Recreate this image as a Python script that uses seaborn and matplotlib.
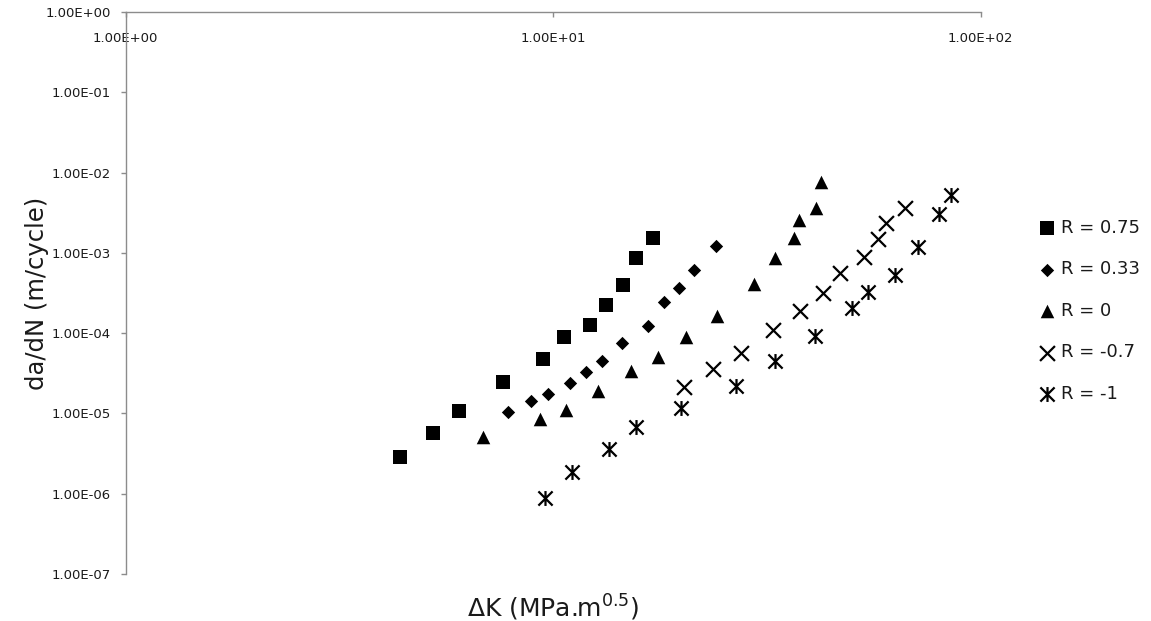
import numpy as np
import pandas as pd
import matplotlib
matplotlib.use("Agg")
import matplotlib.pyplot as plt
from matplotlib.path import Path
from matplotlib.ticker import FixedLocator, FuncFormatter, NullLocator
import seaborn as sns

# ---------------- data ----------------
series_labels = ["R = 0.75", "R = 0.33", "R = 0", "R = -0.7", "R = -1"]

dk_r075 = [4.38, 5.23, 6.01, 7.64, 9.45, 10.6, 12.2, 13.3, 14.6, 15.6, 17.1]
dadn_r075 = [2.90e-6, 5.67e-6, 1.08e-5, 2.45e-5, 4.81e-5, 8.89e-5, 1.25e-4,
             2.26e-4, 3.95e-4, 8.57e-4, 1.53e-3]

dk_r033 = [7.85, 8.87, 9.71, 10.96, 11.93, 13.0, 14.5, 16.7, 18.2, 19.7, 21.4, 24.0]
dadn_r033 = [1.05e-5, 1.44e-5, 1.76e-5, 2.40e-5, 3.29e-5, 4.51e-5, 7.48e-5,
             1.23e-4, 2.41e-4, 3.68e-4, 6.09e-4, 1.23e-3]

dk_r0 = [6.84, 9.31, 10.7, 12.7, 15.2, 17.6, 20.5, 24.2, 29.5, 33.0, 36.5, 37.6, 41.1, 42.3]
dadn_r0 = [5.06e-6, 8.47e-6, 1.11e-5, 1.92e-5, 3.41e-5, 5.10e-5, 8.83e-5,
           1.64e-4, 4.10e-4, 8.71e-4, 1.53e-3, 2.57e-3, 3.66e-3, 7.64e-3]

dk_rm07 = [20.2, 23.7, 27.5, 32.7, 37.8, 42.8, 46.9, 53.3, 57.4, 60.0, 66.5]
dadn_rm07 = [2.12e-5, 3.55e-5, 5.71e-5, 1.10e-4, 1.91e-4, 3.14e-4, 5.67e-4,
             8.97e-4, 1.49e-3, 2.38e-3, 3.66e-3]

dk_rm1 = [9.57, 11.05, 13.5, 15.6, 19.9, 26.8, 33.0, 41.0, 50.0, 54.6, 63.1, 71.5, 79.8, 85.4]
dadn_rm1 = [8.79e-7, 1.84e-6, 3.65e-6, 6.85e-6, 1.16e-5, 2.22e-5, 4.47e-5,
            9.31e-5, 2.04e-4, 3.26e-4, 5.26e-4, 1.17e-3, 3.03e-3, 5.26e-3]

x_ticks = [1, 10, 100]
y_ticks = [1e-7, 1e-6, 1e-5, 1e-4, 1e-3, 1e-2, 1e-1, 1e0]
x_label = r"ΔK (MPa.m$^{0.5}$)"
y_label = "da/dN (m/cycle)"

# ---------------- style ----------------
sns.set_style("white")
plt.rcParams["font.family"] = ["DejaVu Sans"]
plt.rcParams["mathtext.fontset"] = "dejavusans"

star = Path([(-1, -1), (1, 1), (-1, 1), (1, -1), (0, -1.05), (0, 1.05)],
            [Path.MOVETO, Path.LINETO, Path.MOVETO, Path.LINETO, Path.MOVETO, Path.LINETO])

styles = [
    dict(marker="s", s=88, linewidth=0),
    dict(marker="D", s=46, linewidth=0),
    dict(marker="^", s=95, linewidth=0),
    dict(marker="x", s=115, linewidth=1.6),
    dict(marker=star, s=115, linewidth=1.6),
]

series_x = [dk_r075, dk_r033, dk_r0, dk_rm07, dk_rm1]
series_y = [dadn_r075, dadn_r033, dadn_r0, dadn_rm07, dadn_rm1]

fig = plt.figure(figsize=(11.51, 6.21), dpi=100)
ax = fig.add_axes([0.1092, 0.0757, 0.7428, 0.905])

for lab, xs, ys, st in zip(series_labels, series_x, series_y, styles):
    df = pd.DataFrame({"dK": xs, "dadN": ys})
    sns.scatterplot(data=df, x="dK", y="dadN", ax=ax, color="black",
                    edgecolor="black", label=lab, **st)

ax.set_xscale("log")
ax.set_yscale("log")
ax.set_xlim(1, 100)
ax.set_ylim(1e-7, 1)

spine_col = "#8c8c8c"
txt_col = "#1a1a1a"
for side in ["bottom", "right"]:
    ax.spines[side].set_visible(False)
for side in ["top", "left"]:
    ax.spines[side].set_color(spine_col)
    ax.spines[side].set_linewidth(1.0)

ax.xaxis.set_major_locator(FixedLocator(x_ticks))
ax.xaxis.set_minor_locator(NullLocator())
ax.yaxis.set_major_locator(FixedLocator(y_ticks))
ax.yaxis.set_minor_locator(NullLocator())
fmt = FuncFormatter(lambda v, p: f"{v:.2E}")
ax.xaxis.set_major_formatter(fmt)
ax.yaxis.set_major_formatter(fmt)

ax.xaxis.set_ticks_position("top")
ax.tick_params(axis="x", which="major", top=True, bottom=False, labeltop=True,
               labelbottom=False, direction="in", length=3.5, width=1,
               color=spine_col, pad=-24, labelsize=9.5, labelcolor=txt_col)
ax.tick_params(axis="y", which="major", left=True, direction="out", length=3.5,
               width=1, color=spine_col, pad=7, labelsize=9.5, labelcolor=txt_col)

ax.set_xlabel(x_label, fontsize=18, color=txt_col)
ax.xaxis.set_label_position("bottom")
ax.xaxis.label.set_va("center")
ax.xaxis.set_label_coords(0.5, -0.06)

ax.set_ylabel(y_label, fontsize=17.5, color=txt_col)
ax.yaxis.label.set_va("center")
ax.yaxis.set_label_coords(-0.1037, 0.5)

ax.grid(False)
leg = ax.legend(loc="center left", bbox_to_anchor=(1.058, 0.468), frameon=False,
                fontsize=13, handlelength=0.9, handletextpad=0.3,
                labelspacing=1.3, borderpad=0.0, labelcolor=txt_col)

fig.savefig("out.png", dpi=100, facecolor="white")
